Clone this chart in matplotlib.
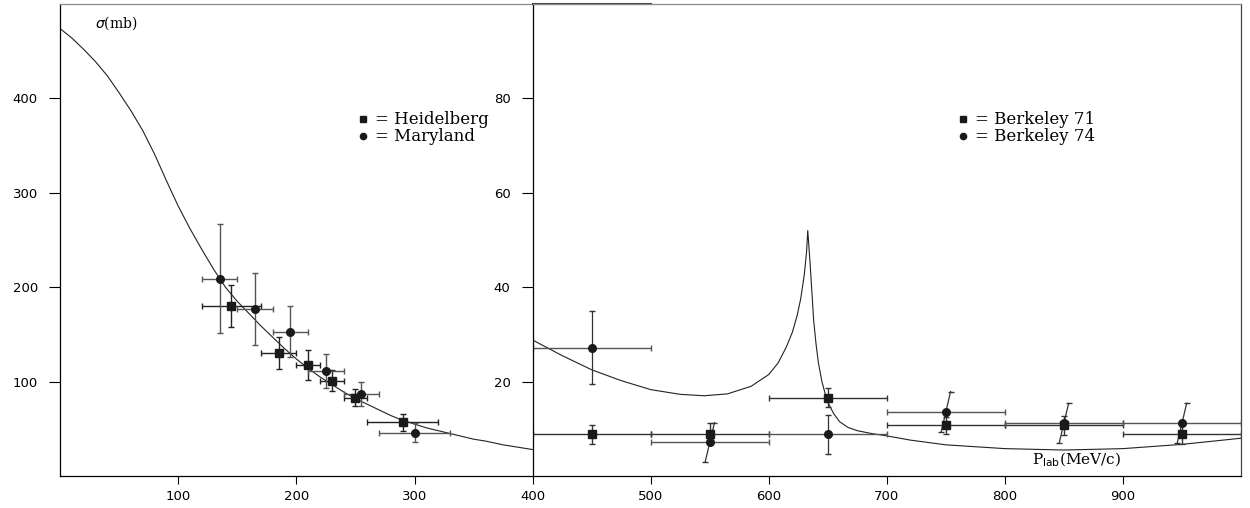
import matplotlib.pyplot as plt
from matplotlib.lines import Line2D

# --- low momentum side (sigma in mb, 0..500) ---
heid_p = [145, 185, 210, 230, 250, 290]
heid_sig = [180, 130, 118, 101, 83, 57]
heid_dp = [25, 15, 10, 10, 10, 30]
heid_dsig = [22, 17, 16, 11, 9, 9]

mary_p = [135, 165, 195, 225, 255, 300]
mary_sig = [209, 177, 153, 111, 87, 46]
mary_dp = [15, 15, 15, 15, 15, 30]
mary_dsig = [58, 38, 27, 18, 13, 10]

fit_low_p = [0, 10, 20, 30, 40, 50, 60, 70, 80, 90, 100, 110, 120, 130, 140, 150,
             160, 170, 180, 190, 200, 210, 220, 230, 240, 250, 260, 270, 280, 290,
             300, 310, 320, 330, 340, 350, 360, 375, 390, 400]
fit_low_sig = [474, 464, 452, 439, 424, 406, 387, 366, 341, 313, 286, 262, 240, 219,
               200, 185, 172, 159, 147, 135, 124, 114, 105, 97, 89, 82, 76, 70, 64,
               59, 55, 51, 48, 45, 42, 39, 37, 33, 30, 28]

# --- high momentum side (sigma in mb, 0..100) ---
b71_p = [450, 550, 650, 750, 850, 950]
b71_sig = [8.8, 9.0, 16.6, 10.7, 10.7, 8.8]
b71_dsig = [2.0, 2.2, 2.0, 1.8, 2.0, 2.0]

b74_p = [450, 550, 650, 750, 850, 950]
b74_sig = [27.2, 7.1, 8.8, 13.6, 11.2, 11.2]
b74_dsig = [7.8, 4.2, 4.2, 4.3, 4.2, 4.2]
b74_tilt = [0, 4, 0, 4, 4, 4]   # the 74 error bars are drawn slanted
bin_half = [50] * 6

fit_high_p = [400, 425, 450, 475, 500, 525, 545, 565, 585, 600, 608, 615, 620, 624,
              627, 630, 632, 633, 634, 635, 636, 637, 638, 640, 642, 645, 648, 650,
              655, 660, 667, 675, 687, 700, 720, 750, 800, 850, 900, 950, 1000]
fit_high_sig = [28.8, 25.5, 22.5, 20.2, 18.3, 17.3, 17.0, 17.4, 19.0, 21.5, 24.0, 27.4,
                30.5, 34.0, 37.5, 42.5, 47.5, 52.0, 48.5, 45.0, 41.0, 37.0, 33.0, 28.0,
                24.0, 20.0, 17.2, 15.6, 13.2, 11.5, 10.3, 9.6, 9.0, 8.5, 7.6, 6.6,
                5.8, 5.5, 5.8, 6.7, 8.0]

tickfont = {'family': 'DejaVu Sans', 'size': 9.5}
serif = 'DejaVu Serif'

fig = plt.figure(figsize=(12.5, 5.08), dpi=100)
ax1 = fig.add_axes([0.048, 0.063, 0.37816, 0.9291])
ax2 = fig.add_axes([0.42616, 0.063, 0.56664, 0.9291])

# left panel
ax1.plot(fit_low_p, fit_low_sig, color='#222222', lw=0.8)
ax1.errorbar(heid_p, heid_sig, xerr=heid_dp, yerr=heid_dsig, fmt='s', ms=6,
             color='#1a1a1a', ecolor='#222222', elinewidth=1.0, capsize=2.5, capthick=1.0)
ax1.errorbar(mary_p, mary_sig, xerr=mary_dp, yerr=mary_dsig, fmt='o', ms=5.5,
             color='#1a1a1a', ecolor='#555555', elinewidth=1.0, capsize=2.5, capthick=1.0)

ax1.set_xlim(0, 400)
ax1.set_ylim(0, 500)
ax1.set_xticks([100, 200, 300])
ax1.set_yticks([100, 200, 300, 400])
ax1.spines['right'].set_visible(False)
ax1.spines['top'].set_color('#888888')
ax1.text(0.074, 0.96, r'$\sigma$(mb)', transform=ax1.transAxes, family=serif,
         fontsize=10, va='center', ha='left')

h1 = [Line2D([], [], ls='none', marker='s', ms=4.5, color='#1a1a1a'),
      Line2D([], [], ls='none', marker='o', ms=4.5, color='#1a1a1a')]
ax1.legend(h1, ['= Heidelberg', '= Maryland'], loc='upper left',
           bbox_to_anchor=(0.61, 0.79), frameon=False, borderpad=0,
           handlelength=0.8, handletextpad=0.3, labelspacing=0.0,
           prop={'family': serif, 'size': 12})

# right panel
ax2.plot(fit_high_p, fit_high_sig, color='#222222', lw=0.8)
ax2.errorbar(b71_p, b71_sig, xerr=bin_half, yerr=b71_dsig, fmt='s', ms=6,
             color='#1a1a1a', ecolor='#333333', elinewidth=1.0, capsize=2.5, capthick=1.0)
ax2.errorbar(b74_p, b74_sig, xerr=bin_half, fmt='o', ms=5.5,
             color='#1a1a1a', ecolor='#555555', elinewidth=1.0, capsize=2.5, capthick=1.0)
for p, s, d, t in zip(b74_p, b74_sig, b74_dsig, b74_tilt):
    ax2.plot([p - t, p + t], [s - d, s + d], color='#333333', lw=0.9)
    ax2.plot([p - t, p + t], [s - d, s + d], ls='none', marker='_', ms=4,
             mew=1.0, color='#333333')

ax2.set_xlim(400, 1000)
ax2.set_ylim(0, 100)
ax2.set_xticks([400, 500, 600, 700, 800, 900])
ax2.set_yticks([20, 40, 60, 80])
ax2.spines['top'].set_color('#888888')
ax2.spines['right'].set_color('#444444')
ax2.axhline(100, xmin=0, xmax=1 / 6, color='#444444', lw=1.5, clip_on=False)
ax2.text(0.705, 0.035, r'P$_{\mathrm{lab}}$(MeV/c)', transform=ax2.transAxes,
         family=serif, fontsize=11, va='center', ha='left')

h2 = [Line2D([], [], ls='none', marker='s', ms=4.5, color='#1a1a1a'),
      Line2D([], [], ls='none', marker='o', ms=4.5, color='#1a1a1a')]
ax2.legend(h2, ['= Berkeley 71', '= Berkeley 74'], loc='upper left',
           bbox_to_anchor=(0.587, 0.79), frameon=False, borderpad=0,
           handlelength=0.8, handletextpad=0.3, labelspacing=0.0,
           prop={'family': serif, 'size': 12})

for ax in (ax1, ax2):
    for side in ('left', 'bottom', 'top', 'right'):
        ax.spines[side].set_linewidth(0.9)
    ax.tick_params(axis='y', direction='out', length=8, width=0.8, pad=8)
    ax.tick_params(axis='x', direction='out', length=6, width=0.8, pad=4)
    for lab in ax.get_xticklabels() + ax.get_yticklabels():
        lab.set_fontfamily(tickfont['family'])
        lab.set_fontsize(tickfont['size'])

fig.savefig('out.png', dpi=100)
